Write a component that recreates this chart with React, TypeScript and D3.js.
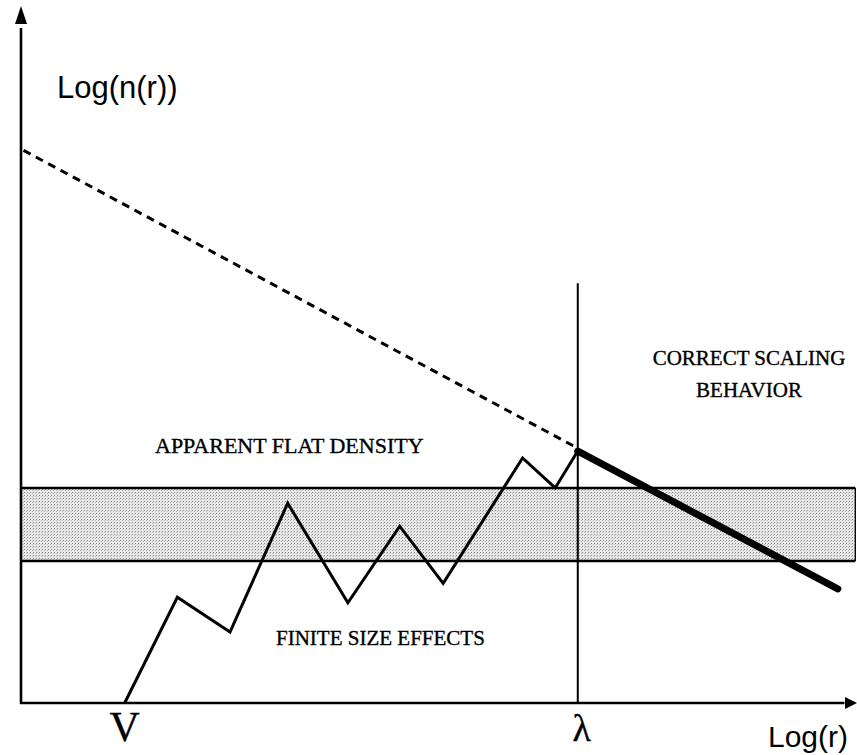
import React from "react";
import * as d3 from "d3";

const W = 857;
const H = 755;

// Abstract data coordinates (0..100 on both axes)
const zigzagR = [12.4, 18.7, 25.0, 31.9, 39.1, 45.3, 50.5, 60.0, 63.9, 66.6];
const zigzagN = [0, 15.2, 10.2, 28.7, 14.4, 25.4, 17.2, 35.2, 30.9, 36.2];
const dashedR = [0.3, 66.6];
const dashedN = [79.4, 36.6];
const scalingR = [66.6, 97.7];
const scalingN = [36.2, 16.4];
const bandN = [20.4, 30.9];
const bandR = [0, 99.8];
const lambdaR = 66.6;
const lambdaTopN = 60.3;
const vR = 12.4;

const labels = {
  yAxis: "Log(n(r))",
  xAxis: "Log(r)",
  v: "V",
  lambda: "λ",
  flat: "APPARENT FLAT DENSITY",
  finite: "FINITE SIZE EFFECTS",
  correct1: "CORRECT SCALING",
  correct2: "BEHAVIOR",
};

export default function App() {
  const x = d3.scaleLinear().domain([0, 100]).range([21, 857]);
  const y = d3.scaleLinear().domain([0, 100]).range([703, 7]);

  const line = d3
    .line<[number, number]>()
    .x((d) => x(d[0]))
    .y((d) => y(d[1]));

  const zig = zigzagR.map((r, i) => [r, zigzagN[i]] as [number, number]);
  const dash = dashedR.map((r, i) => [r, dashedN[i]] as [number, number]);
  const scal = scalingR.map((r, i) => [r, scalingN[i]] as [number, number]);

  const serif = "'Liberation Serif', 'DejaVu Serif', serif";
  const sans = "'Liberation Sans', Arial, sans-serif";
  const serifText = { fontFamily: serif, fill: "#000", stroke: "#000", strokeWidth: 0.35 };

  return (
    <svg
      width={W}
      height={H}
      style={{ position: "absolute", left: 0, top: 0, background: "#fff" }}
    >
      <defs>
        <pattern id="stip" width="3" height="3" patternUnits="userSpaceOnUse">
          <rect width="3" height="3" fill="#e8e8e8" />
          <rect x="0" y="0" width="1" height="1" fill="#8a8a8a" />
          <rect x="2" y="1" width="1" height="1" fill="#b8b8b8" />
        </pattern>
      </defs>

      {/* band */}
      <rect
        x={x(bandR[0])}
        y={y(bandN[1])}
        width={x(bandR[1]) - x(bandR[0])}
        height={y(bandN[0]) - y(bandN[1])}
        fill="url(#stip)"
        stroke="none"
      />
      <line x1={x(bandR[0])} x2={x(bandR[1])} y1={y(bandN[1])} y2={y(bandN[1])} stroke="#000" strokeWidth={2.4} />
      <line x1={x(bandR[0])} x2={x(bandR[1])} y1={y(bandN[0])} y2={y(bandN[0])} stroke="#000" strokeWidth={2.4} />
      <line x1={x(bandR[1])} x2={x(bandR[1])} y1={y(bandN[1])} y2={y(bandN[0])} stroke="#000" strokeWidth={1.4} />

      {/* lambda vertical */}
      <line x1={x(lambdaR)} x2={x(lambdaR)} y1={y(lambdaTopN)} y2={y(0)} stroke="#000" strokeWidth={2} />

      {/* dashed */}
      <path d={line(dash) || ""} fill="none" stroke="#000" strokeWidth={3} strokeDasharray="8 6" />

      {/* zigzag */}
      <path d={line(zig) || ""} fill="none" stroke="#000" strokeWidth={3} strokeLinejoin="miter" />

      {/* thick scaling */}
      <path d={line(scal) || ""} fill="none" stroke="#000" strokeWidth={7} strokeLinecap="round" />

      {/* axes */}
      <line x1={x(0)} x2={x(0)} y1={y(0) + 1} y2={y(97)} stroke="#000" strokeWidth={2.6} />
      <path d={`M${x(0)},${6} L${x(0) - 6},${24} L${x(0) + 6},${24} Z`} fill="#000" />
      <line x1={x(0) - 1} x2={x(98.5)} y1={y(0)} y2={y(0)} stroke="#000" strokeWidth={2.6} />
      <path d={`M${857},${y(0)} L${845},${y(0) - 6} L${845},${y(0) + 6} Z`} fill="#000" />

      {/* texts */}
      <text x={57} y={98} fontFamily={sans} fontSize={31} fill="#000">{labels.yAxis}</text>
      <text x={848} y={747} fontFamily={sans} fontSize={30} textAnchor="end" fill="#000">{labels.xAxis}</text>
      <text x={x(vR)} y={741} fontSize={42} textAnchor="middle" {...serifText}>{labels.v}</text>
      <text x={x(lambdaR) + 4} y={741} fontSize={38} textAnchor="middle" {...serifText}>{labels.lambda}</text>
      <text x={155} y={453} fontSize={22} {...serifText}>{labels.flat}</text>
      <text x={276} y={645} fontSize={21} {...serifText}>{labels.finite}</text>
      <text x={749} y={365} fontSize={21} textAnchor="middle" {...serifText}>{labels.correct1}</text>
      <text x={749} y={397} fontSize={21} textAnchor="middle" {...serifText}>{labels.correct2}</text>
    </svg>
  );
}
